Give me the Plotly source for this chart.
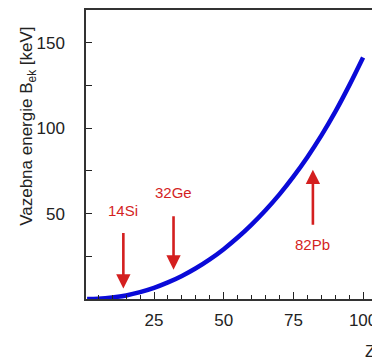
import plotly.graph_objects as go

# Data
z_values = [1, 5, 10, 15, 20, 25, 30, 35, 40, 45, 50, 55, 60, 65, 70, 75, 80, 85, 90, 95, 100]
b_ek_kev = [0.02, 0.2, 0.9, 2.1, 4.0, 6.5, 9.7, 13.5, 18.0, 23.2, 29.2, 36.0, 43.6, 52.0, 61.3, 71.7, 83.1, 95.7, 109.6, 125.0, 141.5]

marker_labels = ["14Si", "32Ge", "82Pb"]
marker_z = [14, 32, 82]
arrow_tip = [6.1, 17.2, 75.7]
arrow_tail = [39.6, 49.4, 42.6]
label_y = [51.8, 62.3, 31.9]

x_ticks = [25, 50, 75, 100]
y_ticks = [50, 100, 150]

RED = "#d41f1f"
BLUE = "#0a0ad8"
FONT = "Liberation Sans, Arial"

fig = go.Figure()
fig.add_trace(go.Scatter(x=z_values, y=b_ek_kev, mode="lines",
                         line=dict(color=BLUE, width=4.5, shape="spline"),
                         showlegend=False, hoverinfo="skip"))

for lab, zx, tip, tail, ly in zip(marker_labels, marker_z, arrow_tip, arrow_tail, label_y):
    fig.add_annotation(x=zx, y=tip, ax=zx, ay=tail, xref="x", yref="y", axref="x", ayref="y",
                       showarrow=True, arrowhead=2, arrowsize=1.1, arrowwidth=2.6,
                       arrowcolor=RED, text="")
    fig.add_annotation(x=zx, y=ly, xref="x", yref="y", text=lab, showarrow=False,
                       font=dict(family=FONT, size=15, color=RED))

fig.add_annotation(x=-0.203, y=0.599, xref="paper", yref="paper", textangle=-90,
                   text="Vazebna energie B<sub>ek</sub> [keV]", showarrow=False,
                   xanchor="center", yanchor="middle",
                   font=dict(family=FONT, size=17, color="#222222"))
fig.add_annotation(x=(370 - 86) / 286, y=(299.5 - 352) / 289.5, xref="paper", yref="paper",
                   text="Z", showarrow=False, xanchor="center", yanchor="middle",
                   font=dict(family=FONT, size=17, color="#222222"))

fig.update_layout(
    width=372, height=361,
    margin=dict(l=86, r=0, t=10, b=61.5),
    paper_bgcolor="white", plot_bgcolor="white",
    font=dict(family=FONT, size=17, color="#222222"),
)
fig.update_xaxes(range=[0.6, 103.2], tickvals=x_ticks, ticks="inside", ticklen=7,
                 tickcolor="#222222", tickwidth=1.2,
                 showline=True, linecolor="#333333", linewidth=1.5, mirror=True,
                 showgrid=False, zeroline=False, automargin=False,
                 ticklabelstandoff=5, ticklabeloverflow="allow",
                 minor=dict(dtick=5, tick0=0, ticks="inside", ticklen=4, tickcolor="#222222", showgrid=False))
fig.update_yaxes(range=[0, 169.3], tickvals=y_ticks, ticks="inside", ticklen=6,
                 tickcolor="#222222", tickwidth=1.2,
                 showline=True, linecolor="#333333", linewidth=1.5,
                 showgrid=False, zeroline=False, automargin=False,
                 ticklabelstandoff=16, ticklabeloverflow="allow",
                 minor=dict(dtick=25, tick0=0, ticks="inside", ticklen=6, tickcolor="#222222", showgrid=False))

fig.write_html("out.html")
